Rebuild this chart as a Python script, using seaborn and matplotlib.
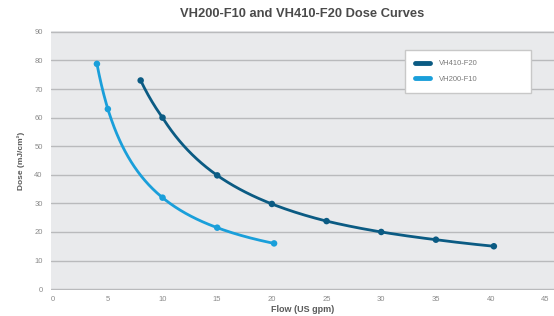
import numpy as np
import pandas as pd
import matplotlib
matplotlib.use('Agg')
import matplotlib.pyplot as plt
import seaborn as sns

# values
flow_f20 = [8, 10, 15, 20, 25, 30, 35, 40.3]
dose_f20 = [73, 60, 39.8, 29.8, 23.8, 20, 17.3, 15]
flow_f10 = [4, 5, 10, 15, 20.2]
dose_f10 = [78.8, 63, 32, 21.5, 16]

names = ['VH410-F20', 'VH200-F10']
colors = ['#0b5b83', '#1a9fda']

sns.set_theme(style='whitegrid')
plt.rcParams['font.family'] = ['Liberation Sans', 'DejaVu Sans']

fig = plt.figure(figsize=(5.54, 3.16), dpi=100)
ax = fig.add_axes([51/554, 26/316, 503/554, 259/316])
ax.set_facecolor('#e9eaec')

def smooth(x, y):
    # draw the line between points as piecewise power-law (straight in log-log)
    lx = np.log(x)
    xs = np.exp(np.linspace(lx[0], lx[-1], 200))
    ys = np.exp(np.interp(np.log(xs), lx, np.log(y)))
    return xs, ys

rows = []
for name, fx, dy in [(names[0], flow_f20, dose_f20), (names[1], flow_f10, dose_f10)]:
    xs, ys = smooth(fx, dy)
    rows.append(pd.DataFrame({'flow': xs, 'dose': ys, 'model': name}))
curve = pd.concat(rows)
pts = pd.concat([
    pd.DataFrame({'flow': flow_f20, 'dose': dose_f20, 'model': names[0]}),
    pd.DataFrame({'flow': flow_f10, 'dose': dose_f10, 'model': names[1]}),
])

pal = dict(zip(names, colors))
sns.lineplot(data=curve, x='flow', y='dose', hue='model', palette=pal,
             linewidth=2, ax=ax, legend=False, sort=False, estimator=None)
sns.scatterplot(data=pts, x='flow', y='dose', hue='model', palette=pal,
                s=22, edgecolor='none', ax=ax, legend=False, zorder=5)

ax.set_xlim(-0.2, 45.8)
ax.set_ylim(-0.3, 90.3)
ax.set_xticks(range(0, 50, 5))
ax.set_yticks(range(0, 100, 10))
ax.grid(axis='x', visible=False)
ax.grid(axis='y', color='#b9babc', linewidth=1)
for s in ax.spines.values():
    s.set_visible(False)
ax.tick_params(axis='both', length=0, labelsize=5.5, labelcolor='#8a8a8a')
ax.tick_params(axis='x', pad=4)
ax.tick_params(axis='y', pad=6)

ax.set_xlabel('Flow (US gpm)', fontsize=6.5, fontweight='bold', color='#5a5a5a', labelpad=2)
ax.set_ylabel('Dose (mJ/cm²)', fontsize=6, fontweight='bold', color='#5a5a5a', labelpad=7)
fig.suptitle('VH200-F10 and VH410-F20 Dose Curves', x=0.545, y=0.975,
             fontsize=9.3, fontweight='bold', color='#4a4a4a')

handles = [plt.Line2D([], [], color=c, linewidth=3.5, solid_capstyle='round') for c in colors]
leg = ax.legend(handles, names, loc='upper left',
                bbox_to_anchor=(354/503, 1 - 60/259, 126/503, 41/259), mode='expand',
                frameon=True, fontsize=5.5, handlelength=2.0, borderpad=1.3,
                labelspacing=1.1, handletextpad=1.2, fancybox=False, borderaxespad=0)
leg.get_frame().set_edgecolor('#c8c8c8')
leg.get_frame().set_facecolor('white')
leg.get_frame().set_alpha(1)
for t in leg.get_texts():
    t.set_color('#7a7a7a')
leg.set_zorder(10)

fig.savefig('out.png', dpi=100)
